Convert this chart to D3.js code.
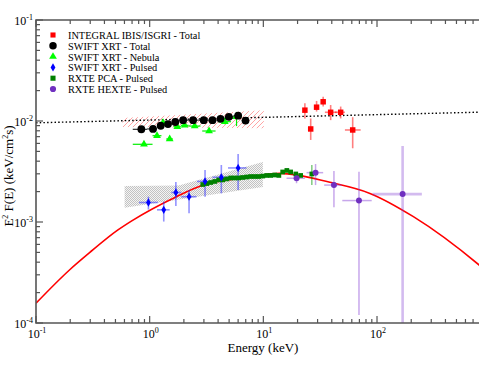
<!DOCTYPE html>
<html>
<head>
<meta charset="utf-8">
<script src="https://cdn.jsdelivr.net/npm/d3@7"></script>
<style>
  body { margin: 0; background: #fff; }
  svg { display: block; font-family: "Liberation Serif", "Times New Roman", serif; }
</style>
</head>
<body>
<div id="chart"></div>
<script>
// values: e = energy (keV), f = E^2 F(E), e0/e1 and f0/f1 = error bar ends
var integralTotal = [
  {e: 23.2, f: 1.28e-2, e0: 22.4, e1: 24.0, f0: 1.06e-2, f1: 1.50e-2},
  {e: 26.1, f: 8.34e-3, e0: 25.2, e1: 27.0, f0: 6.49e-3, f1: 1.06e-2},
  {e: 29.4, f: 1.37e-2, e0: 28.4, e1: 30.6, f0: 1.24e-2, f1: 1.58e-2},
  {e: 33.6, f: 1.55e-2, e0: 32.2, e1: 35.0, f0: 1.39e-2, f1: 1.74e-2},
  {e: 39.1, f: 1.22e-2, e0: 34.8, e1: 44.2, f0: 1.02e-2, f1: 1.44e-2},
  {e: 47.9, f: 1.22e-2, e0: 42.6, e1: 52.2, f0: 1.06e-2, f1: 1.39e-2},
  {e: 61.1, f: 8.15e-3, e0: 52.2, e1: 71.8, f0: 5.37e-3, f1: 1.09e-2}
]
var xrtTotal = [
  {e: 0.845, f: 8.28e-3, e0: 0.71, e1: 0.95, f0: 8.1e-3, f1: 8.5e-3},
  {e: 1.07, f: 8.34e-3, e0: 0.95, e1: 1.16, f0: 8.2e-3, f1: 8.5e-3},
  {e: 1.25, f: 8.98e-3, e0: 1.16, e1: 1.35, f0: 8.8e-3, f1: 9.2e-3},
  {e: 1.45, f: 9.33e-3, e0: 1.35, e1: 1.56, f0: 9.1e-3, f1: 9.5e-3},
  {e: 1.68, f: 9.77e-3, e0: 1.56, e1: 1.82, f0: 9.6e-3, f1: 9.9e-3},
  {e: 1.97, f: 1.02e-2, e0: 1.82, e1: 2.18, f0: 1.0e-2, f1: 1.04e-2},
  {e: 2.41, f: 1.02e-2, e0: 2.18, e1: 2.69, f0: 1.0e-2, f1: 1.04e-2},
  {e: 2.99, f: 1.02e-2, e0: 2.69, e1: 3.27, f0: 1.0e-2, f1: 1.04e-2},
  {e: 3.57, f: 1.02e-2, e0: 3.27, e1: 3.87, f0: 1.0e-2, f1: 1.04e-2},
  {e: 4.20, f: 1.05e-2, e0: 3.87, e1: 4.57, f0: 1.03e-2, f1: 1.07e-2},
  {e: 4.97, f: 1.10e-2, e0: 4.57, e1: 5.46, f0: 1.08e-2, f1: 1.12e-2},
  {e: 6.00, f: 1.13e-2, e0: 5.46, e1: 6.47, f0: 1.10e-2, f1: 1.16e-2},
  {e: 6.97, f: 1.01e-2, e0: 6.47, e1: 7.0, f0: 9.8e-3, f1: 1.04e-2}
]
var xrtNebula = [
  {e: 0.891, f: 5.88e-3, e0: 0.71, e1: 1.06, f0: 5.7e-3, f1: 6.1e-3},
  {e: 1.16, f: 7.15e-3, e0: 1.06, e1: 1.27, f0: 6.9e-3, f1: 7.4e-3},
  {e: 1.31, f: 9.62e-3, e0: 1.22, e1: 1.40, f0: 9.1e-3, f1: 1.02e-2},
  {e: 1.50, f: 6.64e-3, e0: 1.40, e1: 1.60, f0: 6.4e-3, f1: 6.9e-3},
  {e: 1.75, f: 8.78e-3, e0: 1.62, e1: 1.88, f0: 8.4e-3, f1: 9.2e-3},
  {e: 2.03, f: 9.06e-3, e0: 1.88, e1: 2.20, f0: 8.7e-3, f1: 9.4e-3},
  {e: 2.49, f: 8.91e-3, e0: 2.20, e1: 2.80, f0: 8.6e-3, f1: 9.2e-3},
  {e: 3.33, f: 7.96e-3, e0: 2.90, e1: 3.80, f0: 7.6e-3, f1: 8.3e-3},
  {e: 4.58, f: 9.84e-3, e0: 4.00, e1: 5.20, f0: 9.3e-3, f1: 1.04e-2},
  {e: 5.81, f: 1.10e-2, e0: 5.20, e1: 6.50, f0: 8.9e-3, f1: 1.23e-2}
]
var xrtPulsed = [
  {e: 0.975, f: 1.56e-3, e0: 0.805, e1: 1.18, f0: 1.33e-3, f1: 1.78e-3},
  {e: 1.33, f: 1.32e-3, e0: 1.16, e1: 1.50, f0: 1.01e-3, f1: 1.59e-3},
  {e: 1.70, f: 1.96e-3, e0: 1.55, e1: 1.90, f0: 1.44e-3, f1: 2.49e-3},
  {e: 2.22, f: 1.78e-3, e0: 1.90, e1: 2.58, f0: 1.22e-3, f1: 2.07e-3},
  {e: 3.07, f: 2.52e-3, e0: 2.61, e1: 3.61, f0: 1.78e-3, f1: 3.27e-3},
  {e: 4.27, f: 2.77e-3, e0: 3.57, e1: 5.06, f0: 1.92e-3, f1: 3.67e-3},
  {e: 6.00, f: 3.43e-3, e0: 4.89, e1: 7.11, f0: 2.07e-3, f1: 4.71e-3}
]
var pcaE = [2.93, 3.18, 3.45, 3.74, 4.05, 4.39, 4.76, 5.16, 5.60, 6.07, 6.58, 7.14, 7.74,
            8.40, 9.10, 9.90, 10.7, 11.6, 12.6, 13.7, 14.8, 16.1, 17.4, 19.3, 21.3, 26.7]
var pcaF = [2.35e-3, 2.40e-3, 2.46e-3, 2.52e-3, 2.61e-3, 2.61e-3, 2.67e-3, 2.73e-3, 2.73e-3,
            2.73e-3, 2.76e-3, 2.79e-3, 2.82e-3, 2.82e-3, 2.82e-3, 2.85e-3, 2.89e-3, 2.89e-3,
            2.92e-3, 2.89e-3, 3.13e-3, 3.24e-3, 3.13e-3, 2.99e-3, 2.89e-3, 2.99e-3]
var pcaBar = {e: 26.7, f0: 2.32e-3, f1: 3.67e-3}
var hextePulsed = [
  {e: 19.6, f: 2.71e-3, e0: 16.0, e1: 23.2, f0: 2.42e-3, f1: 2.92e-3},
  {e: 28.8, f: 3.08e-3, e0: 24.0, e1: 33.6, f0: 2.32e-3, f1: 3.75e-3},
  {e: 41.8, f: 2.32e-3, e0: 34.3, e1: 48.9, f0: 1.40e-3, f1: 3.20e-3},
  {e: 69.4, f: 1.63e-3, e0: 49.5, e1: 89.8, f0: 1.2e-4, f1: 3.15e-3},
  {e: 168, f: 1.89e-3, e0: 91.6, e1: 248, f0: 1e-5, f1: 5.65e-3}
]
// model curve and power laws, read at a few energies
var modelE = [0.1, 0.197, 0.296, 0.526, 0.69, 1.72, 2.95, 7.9, 14.0, 38.5, 86.7, 209, 792, 1000]
var modelF = [1.57e-4, 3.35e-4, 4.97e-4, 8.34e-4, 1.02e-3, 1.78e-3, 2.32e-3, 2.80e-3, 3.03e-3,
              2.47e-3, 1.92e-3, 1.13e-3, 3.75e-4, 3.0e-4]
var dottedE = [0.1, 1000]
var dottedF = [9.6e-3, 1.23e-2]
var hatchE = [0.578, 10.1, 10.1, 0.578]
var hatchF = [1.07e-2, 1.28e-2, 8.5e-3, 8.7e-3]
var stippleE = [0.602, 1.8, 9.9, 9.9, 0.602]
var stippleF = [2.27e-3, 2.30e-3, 3.93e-3, 2.22e-3, 1.38e-3]

var legendNames = ["INTEGRAL IBIS/ISGRI - Total", "SWIFT XRT - Total", "SWIFT XRT - Nebula",
                   "SWIFT XRT - Pulsed", "RXTE PCA - Pulsed", "RXTE HEXTE - Pulsed"]
var xMajor = [0.1, 1, 10, 100, 1000]
var yMajor = [1e-4, 1e-3, 1e-2, 1e-1]
var xLabelVals = [0.1, 1, 10, 100]
var xExp = ["-1", "0", "1", "2"]
var yExp = ["-4", "-3", "-2", "-1"]

var W = 479, H = 370
var plotLeft = 36, plotTop = 20, plotBottom = 323, decadeX = 113.67

var x = d3.scaleLog().domain([0.1, 1000]).range([plotLeft, plotLeft + 4 * decadeX])
var y = d3.scaleLog().domain([1e-4, 1e-1]).range([plotBottom, plotTop])
var plotRight = x.range()[1]

var svg = d3.select("#chart").append("svg")
    .attr("width", W)
    .attr("height", H)

var defs = svg.append("defs")
defs.append("clipPath").attr("id", "plot-clip")
  .append("rect")
    .attr("x", plotLeft).attr("y", plotTop)
    .attr("width", plotRight - plotLeft).attr("height", plotBottom - plotTop)

// light red diagonal hatching
var hatch = defs.append("pattern")
    .attr("id", "hatch")
    .attr("patternUnits", "userSpaceOnUse")
    .attr("width", 5).attr("height", 5)
hatch.append("rect").attr("width", 5).attr("height", 5).attr("fill", "#fff")
hatch.append("path")
    .attr("d", "M0,5 L5,0 M-1,1 L1,-1 M4,6 L6,4")
    .attr("stroke", "#ff9a9a")
    .attr("stroke-width", 0.9)

// light grey dotted fill
var stip = defs.append("pattern")
    .attr("id", "stipple")
    .attr("patternUnits", "userSpaceOnUse")
    .attr("width", 2).attr("height", 2)
stip.append("rect").attr("width", 2).attr("height", 2).attr("fill", "#f4f4f4")
stip.append("rect").attr("width", 1).attr("height", 1).attr("fill", "#c2c2c2")
stip.append("rect").attr("x", 1).attr("y", 1).attr("width", 1).attr("height", 1).attr("fill", "#c2c2c2")

var plot = svg.append("g").attr("clip-path", "url(#plot-clip)")

var poly = d3.line().x(d => x(d[0])).y(d => y(d[1]))

plot.append("path")
    .attr("d", poly(d3.zip(stippleE, stippleF)) + "Z")
    .attr("fill", "url(#stipple)")

plot.append("path")
    .attr("d", poly(d3.zip(hatchE, hatchF)) + "Z")
    .attr("fill", "url(#hatch)")

plot.append("path")
    .attr("d", poly(d3.zip(dottedE, dottedF)))
    .attr("fill", "none")
    .attr("stroke", "#000")
    .attr("stroke-width", 1.4)
    .attr("stroke-dasharray", "1.5,2.2")

var curve = d3.line().x(d => x(d[0])).y(d => y(d[1])).curve(d3.curveMonotoneX)
plot.append("path")
    .attr("d", curve(d3.zip(modelE, modelF)))
    .attr("fill", "none")
    .attr("stroke", "#ff0000")
    .attr("stroke-width", 1.6)

function errorBars(data, color, width){
    var g = plot.append("g")
        .attr("stroke", color)
        .attr("stroke-width", width)
    g.selectAll(".xb").data(data).enter().append("line")
        .attr("x1", d => x(d.e0)).attr("x2", d => x(d.e1))
        .attr("y1", d => y(d.f)).attr("y2", d => y(d.f))
    g.selectAll(".yb").data(data).enter().append("line")
        .attr("x1", d => x(d.e)).attr("x2", d => x(d.e))
        .attr("y1", d => y(d.f0)).attr("y2", d => y(d.f1))
}

var symSquare = d3.symbol().type(d3.symbolSquare)
var symCircle = d3.symbol().type(d3.symbolCircle)
var symTri = d3.symbol().type(d3.symbolTriangle)
var symDiamond = d3.symbol().type(d3.symbolDiamond)

function markers(g, data, sym, size, color){
    g.selectAll(null).data(data).enter().append("path")
        .attr("d", sym.size(size)())
        .attr("transform", d => "translate(" + x(d.e) + "," + y(d.f) + ")")
        .attr("fill", color)
}

// error bars
errorBars(xrtNebula, "#00ee00", 1.2)
errorBars(xrtTotal, "#000", 1)
errorBars(integralTotal, "rgba(255,0,0,0.5)", 1.6)
errorBars(xrtPulsed, "rgba(40,40,255,0.5)", 1.6)
errorBars(hextePulsed.slice(0, 4), "rgba(130,60,210,0.45)", 1.5)
errorBars(hextePulsed.slice(4), "rgba(130,60,210,0.35)", 2.6)
plot.append("line")
    .attr("x1", x(pcaBar.e)).attr("x2", x(pcaBar.e))
    .attr("y1", y(pcaBar.f0)).attr("y2", y(pcaBar.f1))
    .attr("stroke", "rgba(0,150,0,0.5)").attr("stroke-width", 1.5)

// markers
var pcaData = pcaE.map((e, i) => ({e: e, f: pcaF[i]}))
markers(plot, pcaData, symSquare, 22, "#008000")
markers(plot, xrtNebula, symTri, 26, "#00ff00")
markers(plot, xrtTotal, symCircle, 48, "#000")
markers(plot, xrtPulsed, symDiamond, 20, "#0000ff")
markers(plot, integralTotal, symSquare, 30, "#ff0000")
markers(plot, hextePulsed, symCircle, 28, "#7030c0")

// frame and ticks
var axisColor = "#555"
var frame = svg.append("g").attr("stroke", axisColor).attr("stroke-width", 1.6).attr("fill", "none")
frame.append("path")
    .attr("d", "M" + plotRight + "," + plotTop + "H" + plotLeft + "V" + plotBottom + "H" + plotRight)

var xTicks = [], yTicks = []
xMajor.forEach(function(v, i){
    xTicks.push({v: v, major: true})
    if (i < xMajor.length - 1) for (var k = 2; k < 10; k++) xTicks.push({v: v * k, major: false})
})
yMajor.forEach(function(v, i){
    yTicks.push({v: v, major: true})
    if (i < yMajor.length - 1) for (var k = 2; k < 10; k++) yTicks.push({v: v * k, major: false})
})

var tk = svg.append("g").attr("stroke", axisColor).attr("stroke-width", 1.2)
tk.selectAll(".xt-b").data(xTicks).enter().append("line")
    .attr("x1", d => x(d.v)).attr("x2", d => x(d.v))
    .attr("y1", plotBottom).attr("y2", d => plotBottom - (d.major ? 7 : 4))
tk.selectAll(".xt-t").data(xTicks).enter().append("line")
    .attr("x1", d => x(d.v)).attr("x2", d => x(d.v))
    .attr("y1", plotTop).attr("y2", d => plotTop + (d.major ? 7 : 4))
tk.selectAll(".yt").data(yTicks).enter().append("line")
    .attr("x1", plotLeft).attr("x2", d => plotLeft + (d.major ? 7 : 4))
    .attr("y1", d => y(d.v)).attr("y2", d => y(d.v))

function powLabel(t, exp){
    t.append("tspan").text("10")
    t.append("tspan").attr("dy", -5).attr("font-size", 8).text(exp)
}

xLabelVals.forEach(function(v, i){
    var t = svg.append("text")
        .attr("x", x(v) + 1).attr("y", 338)
        .attr("text-anchor", "middle")
        .attr("font-size", 12)
        .attr("fill", "#000")
    powLabel(t, xExp[i])
})
yMajor.forEach(function(v, i){
    var t = svg.append("text")
        .attr("x", 33).attr("y", y(v) + 5)
        .attr("text-anchor", "end")
        .attr("font-size", 12)
        .attr("fill", "#000")
    powLabel(t, yExp[i])
})

svg.append("text")
    .attr("x", 263).attr("y", 352)
    .attr("text-anchor", "middle")
    .attr("font-size", 13)
    .text("Energy  (keV)")

var yl = svg.append("text")
    .attr("transform", "translate(13,176) rotate(-90)")
    .attr("text-anchor", "middle")
    .attr("font-size", 13)
yl.append("tspan").text("E")
yl.append("tspan").attr("dy", -5).attr("font-size", 8).text("2")
yl.append("tspan").attr("dy", 5).text(" F(E)  (keV/cm")
yl.append("tspan").attr("dy", -5).attr("font-size", 8).text("2")
yl.append("tspan").attr("dy", 5).text("s)")

// legend
var legendSyms = [
    {sym: symSquare, size: 26, color: "#ff0000"},
    {sym: symCircle, size: 44, color: "#000"},
    {sym: symTri, size: 26, color: "#00ff00"},
    {sym: symDiamond, size: 20, color: "#0000ff"},
    {sym: symSquare, size: 26, color: "#008000"},
    {sym: symCircle, size: 30, color: "#7030c0"}
]
var lg = svg.append("g").attr("transform", "translate(53,35)")
legendNames.forEach(function(name, i){
    lg.append("path")
        .attr("d", legendSyms[i].sym.size(legendSyms[i].size)())
        .attr("transform", "translate(0," + (i * 10.8) + ")")
        .attr("fill", legendSyms[i].color)
    lg.append("text")
        .attr("x", 15).attr("y", i * 10.8 + 4)
        .attr("font-size", 10.3)
        .text(name)
})
</script>
</body>
</html>
